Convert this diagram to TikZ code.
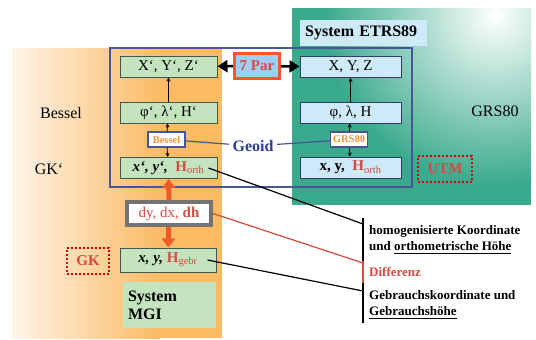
\documentclass[tikz,border=0pt]{standalone}
\usepackage{fontspec}
\setmainfont{Liberation Serif}
\usetikzlibrary{arrows.meta,positioning}

\definecolor{mgigruen}{RGB}{196,228,192}
\definecolor{etrsblau}{RGB}{206,234,248}
\definecolor{orangebg}{RGB}{250,187,100}
\definecolor{orangehell}{RGB}{255,244,234}
\definecolor{tuerkis}{RGB}{58,170,140}
\definecolor{rahmenblau}{RGB}{72,86,150}
\definecolor{geoidblau}{RGB}{45,60,150}
\definecolor{hrot}{RGB}{214,72,66}
\definecolor{pfeilorange}{RGB}{240,88,40}
\definecolor{besselorange}{RGB}{242,150,60}
\definecolor{parblau}{RGB}{160,205,240}
\definecolor{boxrand}{RGB}{60,90,80}

\newcommand{\gross}{\fontsize{15}{17}\selectfont}
\newcommand{\Horth}{\textcolor{hrot}{\textbf{H}\textsubscript{orth}}}
\newcommand{\Hgebr}{\textcolor{hrot}{\textbf{H}\textsubscript{gebr}}}
\newcommand{\unterstrich}[1]{\setbox0\hbox{#1}\leavevmode\rlap{\raisebox{-3.5pt}{\rule{\wd0}{1.3pt}}}\box0}

\tikzset{
  gruenbox/.style={draw=boxrand, fill=mgigruen, line width=1pt, minimum width=97, minimum height=21, inner sep=0pt, font=\gross},
  blaubox/.style={gruenbox, draw=rahmenblau!70!black, fill=etrsblau, minimum width=101},
  kleinbox/.style={draw=rahmenblau, fill=white, line width=1.5pt, text=besselorange, font=\bfseries\fontsize{10.5}{10.5}\selectfont, minimum width=37, minimum height=15, inner sep=1pt},
  punktbox/.style={draw=red!85!black, dotted, line width=2pt, text=hrot, font=\bfseries\gross},
  beschriftung/.style={font=\fontsize{16}{16}\selectfont},
  rechtstext/.style={font=\bfseries\fontsize{13}{16}\selectfont, align=left, inner sep=2pt, anchor=west},
  kleinpfeil/.style={-{Stealth[length=4pt,width=4pt]}, line width=0.8pt},
  geoidlinie/.style={draw=rahmenblau, line width=1.2pt},
  verbindung/.style={line width=1.2pt}
}

\begin{document}
\begin{tikzpicture}[x=1pt,y=-1pt]
    \useasboundingbox (0,0) rectangle (536,340);

    % Hintergrund System MGI
    \shade[left color=orangehell, right color=orangebg] (12,48) rectangle (160,338);
    \fill[orangebg] (159.5,48) rectangle (222,338);

    % Hintergrund System ETRS89
    \fill[tuerkis] (292,8) rectangle (531,205);
    \begin{scope}
        \clip (292,8) rectangle (531,205);
        \shade[inner color=white, outer color=tuerkis] (495,15) circle (170);
    \end{scope}

    % blauer Rahmen
    \draw[rahmenblau, line width=1.5pt] (110,48) rectangle (412,187);

    % Koordinaten MGI
    \node[gruenbox] (xyzs) at (168.5,66.5) {X‘, Y‘, Z‘};
    \node[gruenbox] (phis) at (168.5,112.5) {φ‘, λ‘, H‘};
    \node[kleinbox] (besselbox) at (166.5,139.5) {Bessel};
    \node[gruenbox] (xys) at (168.5,168) {\textbf{\textit{x‘, y‘,}}\ \ \Horth};

    % Koordinaten ETRS89
    \node[blaubox] (xyz) at (350.5,67) {X, Y, Z};
    \node[blaubox] (phi) at (350.5,112.5) {φ, λ, H};
    \node[kleinbox] (grsbox) at (349,139.5) {GRS80};
    \node[blaubox] (xy) at (350.5,167.5) {\textbf{x, y,}\ \ \Horth};

    % Transformation
    \node[draw=pfeilorange, line width=3pt, fill=parblau, text=hrot, font=\bfseries\gross,
          minimum width=45, minimum height=25, inner sep=1pt] (par) at (257,66) {7 Par};
    \draw[-{Triangle[length=10pt,width=12pt]}, line width=2.5pt] (par) -- (xyzs);
    \draw[-{Triangle[length=10pt,width=12pt]}, line width=2.5pt] (par) -- (xyz);

    % Pfeile innerhalb der Systeme
    \draw[kleinpfeil, {Stealth[length=4pt,width=4pt]}-] (xyzs) -- (phis);
    \draw[kleinpfeil] (besselbox) -- (phis);
    \draw[kleinpfeil] (besselbox) -- (xys);
    \draw[kleinpfeil, {Stealth[length=4pt,width=4pt]}-] (xyz) -- (phi);
    \draw[kleinpfeil] (grsbox) -- (phi);
    \draw[kleinpfeil] (grsbox) -- (xy);

    % Geoid
    \node[font=\bfseries\fontsize{16}{16}\selectfont, text=geoidblau] (geoid) at (253,146) {Geoid};
    \draw[geoidlinie] (besselbox) -- (geoid);
    \draw[geoidlinie] (geoid) -- (grsbox);

    % Beschriftungen
    \node[beschriftung] (bessellabel) at (61,113) {Bessel};
    \node[beschriftung] (gkslabel) at (49,169) {GK‘};
    \node[beschriftung] (grslabel) at (495,111) {GRS80};
    \node[punktbox, minimum width=54, minimum height=26] (utm) at (445,169) {UTM};
    \node[fill=etrsblau, anchor=west, font=\bfseries\fontsize{16}{16}\selectfont,
          minimum height=26, inner xsep=5pt, text width=117] (etrs) at (300,33) {System ETRS89};

    % Differenz und Gebrauchssystem
    \node[draw=gray!90!black, line width=4pt, fill=white, text=hrot, font=\gross,
          minimum width=84, minimum height=23, inner sep=1pt] (dxdy) at (169,213.5) {dy, dx, \textbf{dh}};
    \node[gruenbox, minimum width=96, minimum height=24] (xygebr) at (168,260) {\textbf{\textit{x, y,}}\ \Hgebr};
    \node[punktbox, minimum width=42, minimum height=26] (gk) at (88,261) {GK};
    \node[fill=mgigruen, align=left, font=\bfseries\fontsize{16}{18}\selectfont,
          text width=83, inner xsep=5pt, minimum height=46] (mgi) at (169.5,305) {System\\MGI};
    \draw[-{Triangle[length=9pt,width=13pt]}, line width=5pt, pfeilorange] (dxdy) -- (xys);
    \draw[-{Triangle[length=9pt,width=13pt]}, line width=5pt, pfeilorange] (dxdy) -- (xygebr);

    % Erklaerungen rechts
    \coordinate (anschlussa) at (363,224);
    \coordinate (anschlussb) at (363,263);
    \coordinate (anschlussc) at (363,291);
    \draw[line width=2pt] (363,218) -- (363,323);
    \draw[line width=2pt, hrot] (363,261) -- (363,283);
    \node[rechtstext] (homo) at (367,240) {homogenisierte Koordinate\\und \unterstrich{orthometrische Höhe}};
    \node[rechtstext, text=hrot] (diff) at (367,272) {Differenz};
    \node[rechtstext] (gebr) at (367,305) {Gebrauchskoordinate und\\\unterstrich{Gebrauchshöhe}};

    % Verbindungslinien
    \draw[verbindung] ([xshift=-9pt]xys.east) -- (anschlussa);
    \draw[verbindung, hrot] (dxdy.east) -- (anschlussb);
    \draw[verbindung] ([xshift=-9pt]xygebr.east) -- (anschlussc);
\end{tikzpicture}
\end{document}
